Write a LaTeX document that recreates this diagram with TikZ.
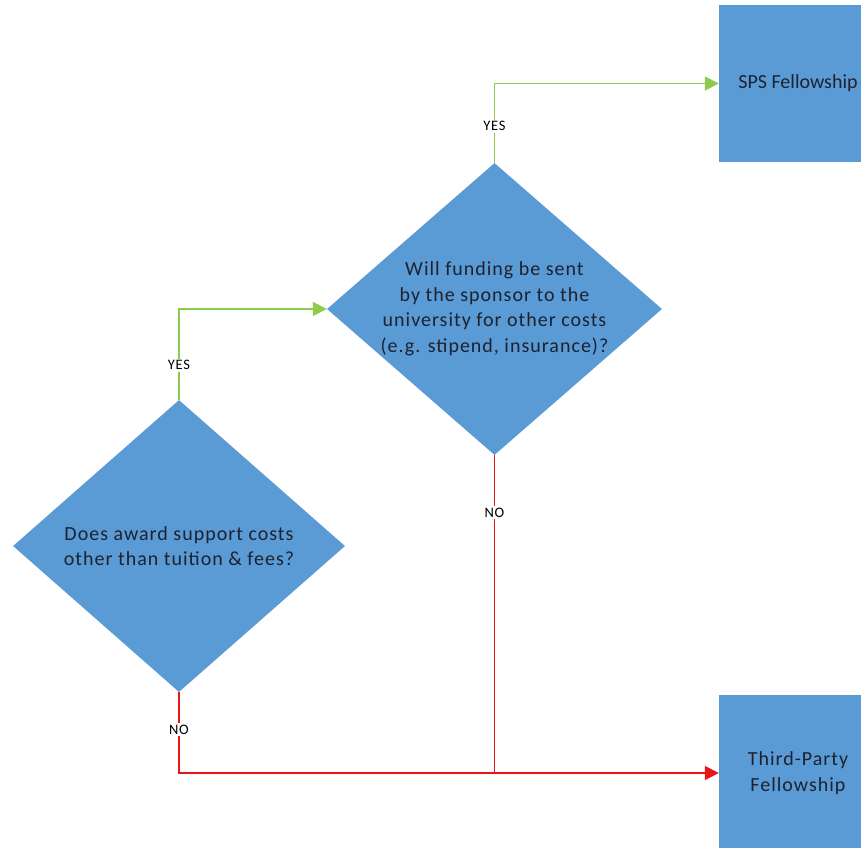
\documentclass[tikz,border=0pt]{standalone}
\usepackage{fontspec}
\setmainfont{Carlito}
\newfontfamily\spacedfont[LetterSpace=5]{Carlito}
\usetikzlibrary{shapes.geometric,arrows.meta}
\definecolor{boxblue}{HTML}{5B9BD5}
\definecolor{yesgreen}{HTML}{8DCB4E}
\definecolor{nored}{HTML}{E81616}
\definecolor{inktext}{HTML}{1C2230}
\begin{document}
\begin{tikzpicture}[x=1pt,y=-1pt,
  decision/.style={diamond, fill=boxblue, draw=none, inner sep=0pt},
  qtext/.style={align=center, text=inktext, font=\spacedfont\fontsize{20}{25.5}\selectfont},
  outcome/.style={rectangle, fill=boxblue, draw=none, minimum width=158pt, align=center, text=inktext, font=\spacedfont\fontsize{20}{26}\selectfont},
  lbl/.style={fill=white, inner sep=1.5pt, text=black, font=\spacedfont\fontsize{14.5}{16}\selectfont},
  yesline/.style={draw=yesgreen, line width=1.7pt, -{Triangle[length=14pt,width=14pt]}},
  noline/.style={draw=nored, line width=1.7pt, -{Triangle[length=14pt,width=14pt]}},
  joinline/.style={draw=nored, line width=1.7pt}]
\useasboundingbox (0,0) rectangle (861,847);
\clip (0,0) rectangle (861,847);
\fill[white] (0,0) rectangle (861,847);

\node[decision, minimum width=332pt, minimum height=292pt,
  label={[qtext]center:{Does award support costs\\other than tuition \& fees?}}] (q1) at (179,546) {};
\node[decision, minimum width=335pt, minimum height=292pt,
  label={[qtext]center:{Will funding be sent\\by the sponsor to the\\university for other costs\\(e.g. stipend, insurance)?}}] (q2) at (494.5,309) {};
\node[outcome, minimum height=157pt, font=\fontsize{20}{26}\selectfont] (sps) at (798,83.5) {SPS Fellowship};
\node[outcome, minimum height=156pt] (third) at (798,773) {Third-Party\\Fellowship};

\coordinate (j) at (q2.south |- third.west);

\draw[yesline] (q1.north) |- node[lbl,pos=0.19]{YES} (q2.west);
\draw[yesline] (q2.north) |- node[lbl,pos=0.23]{YES} (sps.west);
\draw[noline] (q1.south) |- node[lbl,pos=0.23]{NO} (third.west);
\draw[joinline] (q2.south) -- node[lbl,pos=0.18]{NO} (j);
\end{tikzpicture}
\end{document}
